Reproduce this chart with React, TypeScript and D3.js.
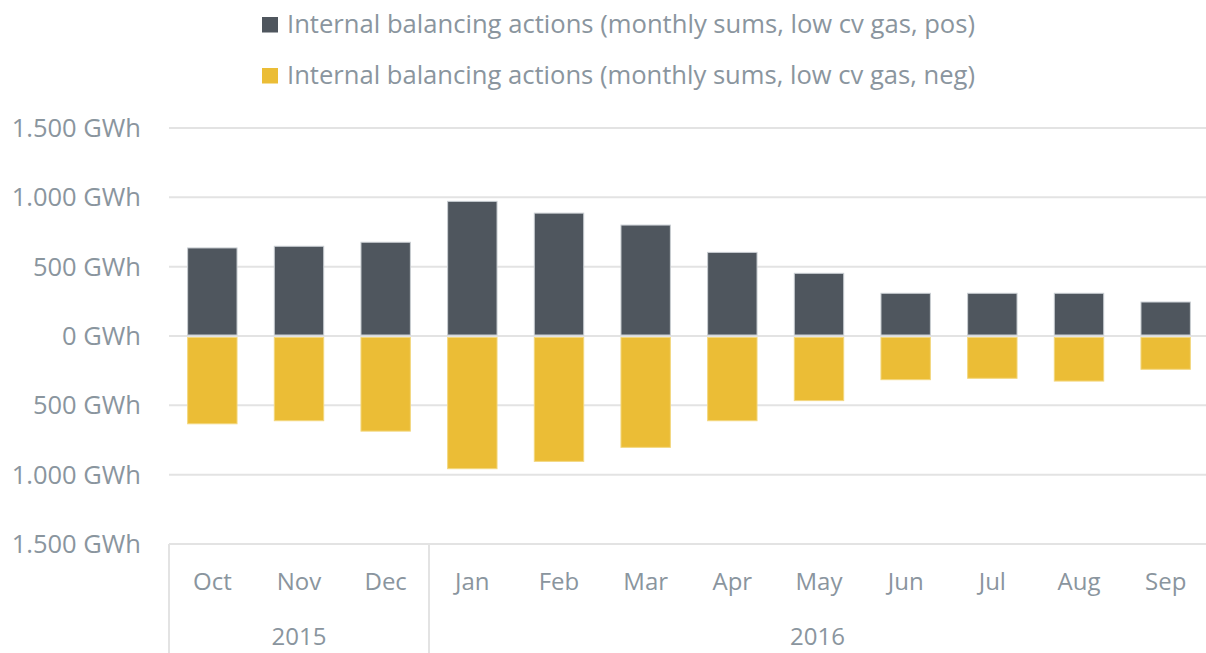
import React from "react";
import * as d3 from "d3";

const months = ["Oct", "Nov", "Dec", "Jan", "Feb", "Mar", "Apr", "May", "Jun", "Jul", "Aug", "Sep"];
const monthYears = ["2015", "2015", "2015", "2016", "2016", "2016", "2016", "2016", "2016", "2016", "2016", "2016"];
const years = ["2015", "2016"];
const posValues = [635, 647, 676, 971, 886, 800, 603, 452, 308, 308, 308, 245];
const negValues = [-633, -611, -686, -957, -904, -803, -611, -466, -315, -305, -325, -240];
const yTicks = [-1500, -1000, -500, 0, 500, 1000, 1500];
const legendLabels = [
  "Internal balancing actions (monthly sums, low cv gas, pos)",
  "Internal balancing actions (monthly sums, low cv gas, neg)",
];

const W = 1206;
const H = 653;
const TEXT = "#8a959e";
const GRID = "#e3e3e3";
const DARK = "#4f565e";
const YELLOW = "#ebbd36";
const FONT = "'Open Sans', sans-serif";

const locale = d3.formatLocale({ decimal: ",", thousands: ".", grouping: [3], currency: ["", "€"] });
const fmt = locale.format(",.0f");

export default function App() {
  const x = d3.scaleBand<string>().domain(months).range([169, 1209]).paddingInner(0.43).paddingOuter(0.215);
  const y = d3.scaleLinear().domain([-1500, 1500]).range([544, 128]);
  const step = x.step();
  const bw = x.bandwidth();
  const gapHalf = (step - bw) / 2;

  const yearSpans = years.map((yr) => {
    const idx = monthYears.map((m, i) => (m === yr ? i : -1)).filter((i) => i >= 0);
    const x0 = (x(months[idx[0]]) as number) - gapHalf;
    const x1 = Math.min((x(months[idx[idx.length - 1]]) as number) + bw + gapHalf, W);
    return { yr, x0, x1 };
  });

  return (
    <svg width={W} height={H} style={{ position: "absolute", left: 0, top: 0, background: "#fff" }} fontFamily={FONT}>
      {/* legend */}
      {legendLabels.map((lab, i) => (
        <g key={lab}>
          <rect x={262} y={17 + i * 51} width={16} height={15.5} fill={i === 0 ? DARK : YELLOW} />
          <text x={287} y={33 + i * 51} fontSize={26} fill={TEXT} textLength={688} lengthAdjust="spacingAndGlyphs">
            {lab}
          </text>
        </g>
      ))}
      {/* gridlines */}
      {yTicks.map((t) => (
        <line key={t} x1={169} x2={1206} y1={y(t)} y2={y(t)} stroke={GRID} strokeWidth={2} />
      ))}
      {/* y labels */}
      {yTicks.map((t) => (
        <text key={"l" + t} x={141} y={y(t)} dy="0.35em" textAnchor="end" fontSize={25.5} fill={TEXT}>
          {fmt(Math.abs(t)) + " GWh"}
        </text>
      ))}
      {/* bars */}
      {months.map((m, i) => (
        <g key={m}>
          <rect
            x={x(m)}
            y={y(posValues[i])}
            width={bw}
            height={y(0) - 1 - y(posValues[i])}
            fill={DARK}
            stroke="#c9ced3"
            strokeWidth={1}
          />
          <rect
            x={x(m)}
            y={y(0) + 1.5}
            width={bw}
            height={y(negValues[i]) - y(0) - 1.5}
            fill={YELLOW}
            stroke="#f3d77e"
            strokeWidth={1}
          />
        </g>
      ))}
      {/* category axis */}
      {months.map((m) => (
        <text key={"m" + m} x={(x(m) as number) + bw / 2} y={590} textAnchor="middle" fontSize={24} fill={TEXT}>
          {m}
        </text>
      ))}
      {yearSpans.map((s) => (
        <g key={s.yr}>
          <line x1={s.x0} x2={s.x0} y1={544} y2={H} stroke={GRID} strokeWidth={2} />
          <text x={(s.x0 + s.x1) / 2} y={645} textAnchor="middle" fontSize={24} fill={TEXT}>
            {s.yr}
          </text>
        </g>
      ))}
    </svg>
  );
}
